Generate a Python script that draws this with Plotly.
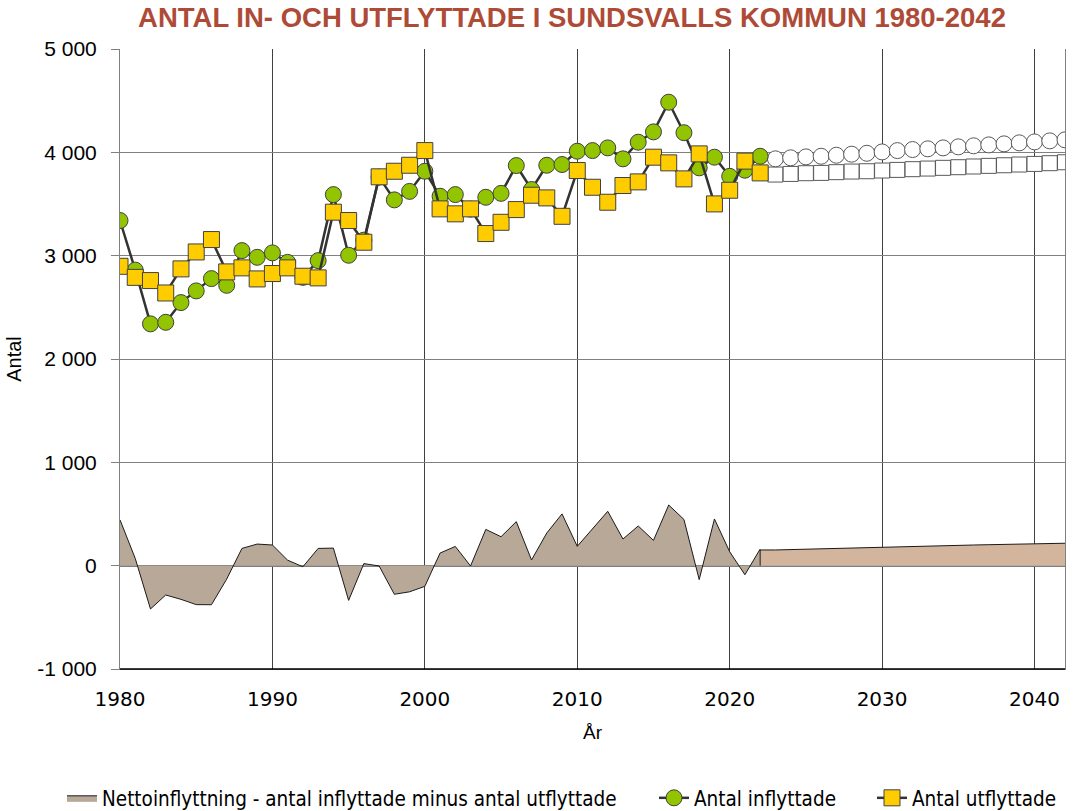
import plotly.graph_objects as go

years_hist = list(range(1980, 2023))
inflyttade = [3340, 2860, 2340, 2355, 2546, 2659, 2778, 2713, 3049, 2984,
              3027, 2935, 2790, 2952, 3591, 3004, 3150, 3760, 3540, 3622,
              3817, 3575, 3591, 3450, 3565, 3603, 3872, 3640, 3875, 3882,
              4011, 4017, 4043, 3937, 4098, 4198, 4485, 4190, 3850, 3953,
              3768, 3827, 3962]
utflyttade = [2897, 2790, 2759, 2639, 2872, 3036, 3156, 2843, 2882, 2775,
              2827, 2882, 2801, 2785, 3421, 3340, 3130, 3763, 3817, 3875,
              4017, 3453, 3405, 3453, 3214, 3323, 3446, 3585, 3559, 3381,
              3824, 3662, 3517, 3679, 3714, 3953, 3898, 3743, 3985, 3501,
              3633, 3915, 3801]

years_proj = list(range(2023, 2043))
inflyttade_proj = [3937, 3947, 3956, 3962, 3972, 3982, 3991, 4004, 4017, 4027,
                   4034, 4043, 4053, 4063, 4072, 4082, 4092, 4101, 4111, 4121]
utflyttade_proj = [3785, 3791, 3798, 3801, 3808, 3814, 3817, 3824, 3830, 3837,
                   3843, 3850, 3856, 3863, 3869, 3875, 3882, 3888, 3895, 3904]

y_ticks = [-1000, 0, 1000, 2000, 3000, 4000, 5000]
y_ticktext = ["-1 000", "0", "1 000", "2 000", "3 000", "4 000", "5 000"]
x_ticks = [1980, 1990, 2000, 2010, 2020, 2030, 2040]

net_hist = [a - b for a, b in zip(inflyttade, utflyttade)]
net_proj = [a - b for a, b in zip(inflyttade_proj, utflyttade_proj)]
# projection area starts at the last historical year
net_proj_x = [years_hist[-1], years_hist[-1]] + years_proj
net_proj_y = [0, net_proj[0]] + net_proj

fig = go.Figure()

fig.add_trace(go.Scatter(
    x=years_hist, y=net_hist, mode="lines", fill="tozeroy",
    fillcolor="#B8A898", line=dict(color="#1a1a1a", width=1),
    name="Nettoinflyttning - antal inflyttade minus antal utflyttade",
    legend="legend",
))
fig.add_trace(go.Scatter(
    x=net_proj_x, y=net_proj_y, mode="lines", fill="tozeroy",
    fillcolor="#D3B59D", line=dict(color="#1a1a1a", width=1),
    showlegend=False,
))

fig.add_trace(go.Scatter(
    x=years_proj, y=utflyttade_proj, mode="markers",
    marker=dict(symbol="square", size=15, color="white",
                line=dict(color="#595959", width=1)),
    showlegend=False,
))
fig.add_trace(go.Scatter(
    x=years_proj, y=inflyttade_proj, mode="markers",
    marker=dict(symbol="circle", size=16, color="white",
                line=dict(color="#595959", width=1)),
    showlegend=False,
))

fig.add_trace(go.Scatter(
    x=years_hist, y=inflyttade, mode="lines+markers",
    line=dict(color="#333333", width=2.5),
    marker=dict(symbol="circle", size=16, color="#92C400",
                line=dict(color="#404040", width=1)),
    name="Antal inflyttade", legend="legend2",
))
fig.add_trace(go.Scatter(
    x=years_hist, y=utflyttade, mode="lines+markers",
    line=dict(color="#333333", width=2.5),
    marker=dict(symbol="square", size=16, color="#FFCC00",
                line=dict(color="#404040", width=1)),
    name="Antal utflyttade", legend="legend3",
))

legend_font = dict(family="DejaVu Sans Condensed, Liberation Sans, Arial", size=20.5)
legend_common = dict(orientation="h", xref="container", yref="container",
                     xanchor="left", y=1 - 798 / 811, yanchor="middle",
                     font=legend_font, bgcolor="rgba(0,0,0,0)")

fig.update_layout(
    width=1076, height=811,
    margin=dict(l=120, r=11, t=49, b=142),
    paper_bgcolor="white", plot_bgcolor="white",
    font=dict(family="Liberation Sans, Arial, sans-serif", size=18, color="black"),
    title=dict(
        text="<b>ANTAL IN- OCH UTFLYTTADE I SUNDSVALLS KOMMUN 1980-2042</b>",
        font=dict(family="Liberation Sans, Arial", size=27.5, color="#AE4B37"),
        x=572 / 1076, xanchor="center", xref="container",
        y=1 - 17 / 811, yref="container", yanchor="middle",
    ),
    legend=dict(x=(103 - 41) / 1076, **legend_common),
    legend2=dict(x=(695 - 41) / 1076, **legend_common),
    legend3=dict(x=(913 - 41) / 1076, **legend_common),
    showlegend=True,
)

fig.update_xaxes(
    range=[1980, 2042], tickvals=x_ticks, ticks="",
    showgrid=True, gridcolor="#404040", gridwidth=1,
    showline=True, linecolor="#808080", linewidth=1,
    zeroline=False, ticklabelstandoff=12, automargin=False,
    title=dict(text="År", font=dict(size=19), standoff=15),
    tickfont=dict(family="DejaVu Sans, Liberation Sans", size=20),
)
fig.update_yaxes(
    range=[-1000, 5000], tickvals=y_ticks, ticktext=y_ticktext,
    ticks="outside", ticklen=8, tickcolor="#808080",
    showgrid=True, gridcolor="#808080", gridwidth=1,
    showline=True, linecolor="#808080", linewidth=1, mirror=True,
    zeroline=True, zerolinecolor="#808080", zerolinewidth=2,
    ticklabelstandoff=10, automargin=False,
    title=dict(text="Antal", font=dict(size=20), standoff=10),
    tickfont=dict(family="Liberation Sans, Arial", size=21),
)

fig.add_shape(type="line", xref="paper", yref="paper", x0=0, x1=1, y0=0, y1=0,
              line=dict(color="black", width=1.5))

fig.write_html("out.html", config={"displayModeBar": False},
               post_script="document.body.style.margin='0';")
